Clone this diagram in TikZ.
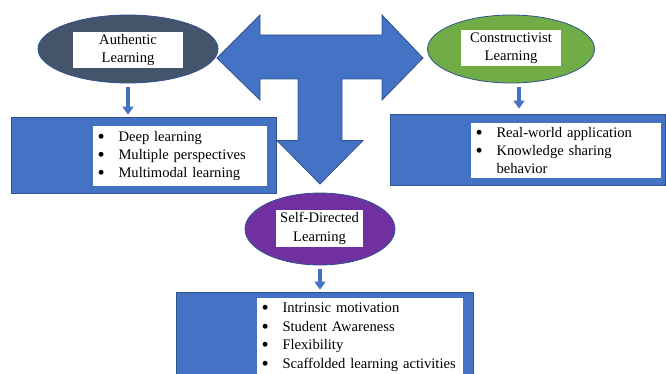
\documentclass[tikz,border=0pt]{standalone}
\usepackage{fontspec}
\setmainfont{Liberation Serif}
\usetikzlibrary{shapes.geometric,arrows.meta,positioning}

\definecolor{boxblue}{HTML}{4472C4}
\definecolor{edgeblue}{HTML}{2F528F}
\definecolor{slate}{HTML}{44546A}
\definecolor{leafgreen}{HTML}{70AD47}
\definecolor{deeppurple}{HTML}{7030A0}

\newcommand{\bl}{\makebox[21pt][l]{\smash{\raisebox{-2pt}{\scalebox{1.4}{\textbullet}}}}}

\begin{document}
\begin{tikzpicture}[
    x=1pt, y=-1pt,
    font=\fontsize{14.6}{18.4}\selectfont,
    % --- node styles ---
    oval/.style  = {ellipse, draw=edgeblue, line width=0.8pt, inner sep=0pt},
    lbl/.style   = {rectangle, fill=white, align=center, inner sep=0pt},
    panel/.style = {rectangle, draw=edgeblue, fill=boxblue,
                    line width=0.8pt, inner sep=0pt},
    list/.style  = {rectangle, fill=white, align=left,
                    inner xsep=4.5pt, inner ysep=0pt},
    drop/.style  = {boxblue, line width=4pt,
                    -{Triangle[width=11pt,length=8pt]},
                    shorten <=4pt, shorten >=2pt},
]
\clip (0,0) rectangle (666,374);

%============ THREE-WAY ARROW ============
\filldraw[fill=boxblue, draw=edgeblue, line width=0.8pt]
  (217,58) -- (260,15) -- (260,35) -- (382,35) -- (382,15) -- (423,58)
  -- (382,100) -- (382,79) -- (342,79) -- (342,140.5) -- (363,140.5)
  -- (320,184) -- (277,140.5) -- (298,140.5) -- (298,79) -- (260,79)
  -- (260,100) -- cycle;

%============ AUTHENTIC ============
\node (auth) [oval, fill=slate, minimum width=180pt, minimum height=68pt]
  at (128,49) {};
\node (authlbl) [lbl, minimum width=110pt, minimum height=36pt]
  at (128,50) {Authentic\\Learning};

\node (authbox) [panel, minimum width=265pt, minimum height=76pt]
  at (143.5,155) {};
\node (authlist) [list, text width=165pt, minimum height=60pt]
  at (180,156)
  {\bl Deep learning\\ \bl Multiple perspectives\\ \bl Multimodal learning};

%============ CONSTRUCTIVIST ============
\node (constr) [oval, fill=leafgreen, minimum width=167pt, minimum height=68pt]
  at (511,49) {};
\node (constrlbl) [lbl, minimum width=100pt, minimum height=36pt]
  at (511,48) {Constructivist\\Learning};

\node (constrbox) [panel, minimum width=275pt, minimum height=71pt]
  at (527.5,149.5) {};
\node (constrlist) [list, text width=181pt, minimum height=55pt]
  at (566,150.5)
  {\bl Real-world application\\ \bl Knowledge sharing\\ \hspace*{21pt}behavior};

%============ SELF-DIRECTED ============
\node (selfdir) [oval, fill=deeppurple, minimum width=150pt, minimum height=72pt]
  at (320,229) {};
\node (selflbl) [lbl, minimum width=87pt, minimum height=37pt]
  at (319.5,228.5) {Self-Directed\\Learning};

\node (selfbox) [panel, minimum width=297pt, minimum height=88pt]
  at (324.5,336) {};
\node (selflist) [list, text width=197pt, inner ysep=5pt, anchor=north]
  at (360,298)
  {\bl Intrinsic motivation\\ \bl Student Awareness\\ \bl Flexibility\\
   \bl Scaffolded learning activities};

%============ DOWN ARROWS ============
\draw[drop] (auth.south) -- (auth.south |- authbox.north);
\draw[drop, shorten >=5pt]
  ([xshift=8pt]constr.south) -- ([xshift=8pt]constr.south |- constrbox.north);
\draw[drop] (selfdir.south) -- (selfdir.south |- selfbox.north);

\end{tikzpicture}
\end{document}
